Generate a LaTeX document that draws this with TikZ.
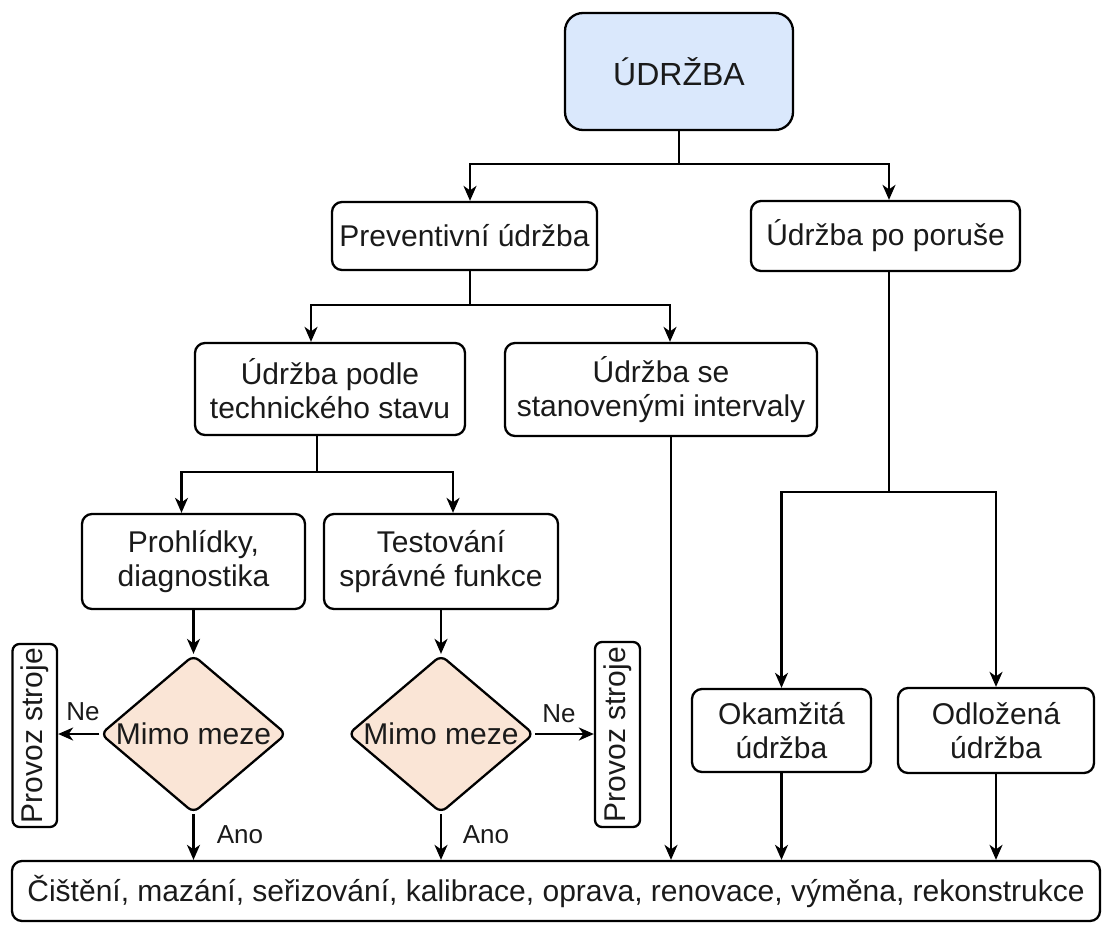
\documentclass[tikz,border=0pt]{standalone}
\usepackage{fontspec}
\setmainfont{Liberation Sans}
\usetikzlibrary{arrows.meta,shapes.geometric}
\definecolor{topfill}{HTML}{DAE8FC}
\definecolor{diafill}{HTML}{FAE5D6}
\definecolor{txt}{HTML}{1A1A1A}
\tikzset{
 box/.style={draw, line width=2.3pt, rounded corners=10pt, align=center, inner sep=0pt, text=txt, font=\fontsize{30}{34}\selectfont},
 dia/.style={diamond, draw, fill=diafill, line width=2.3pt, rounded corners=7pt, minimum width=186pt, minimum height=158pt, inner sep=0pt},
 vbox/.style={box, rotate=90, rounded corners=7pt},
 arr/.style={line width=2.2pt, -{Stealth[length=15pt,width=13pt,inset=4.5pt]}},
 ln/.style={line width=2.2pt},
 lbl/.style={font=\fontsize{26}{28}\selectfont, text=txt, inner sep=0pt},
 dtext/.style={font=\fontsize{30}{34}\selectfont, text=txt},
}
\begin{document}
\begin{tikzpicture}[x=1pt,y=-1pt]
\useasboundingbox (0,0) rectangle (1103,924);

% nodes
\node[box, fill=topfill, minimum width=228, minimum height=117, rounded corners=18pt, font=\fontsize{32}{36}\selectfont] (udrzba) at (679,71.5) {ÚDRŽBA};
\node[box, minimum width=265, minimum height=68] (prev) at (464.5,236) {Preventivní údržba};
\node[box, minimum width=269, minimum height=70] (porucha) at (885.5,236) {Údržba po poruše};
\node[box, minimum width=270, minimum height=92] (podle) at (330,389) {Údržba podle\\technického stavu};
\node[box, minimum width=312, minimum height=93] (se) at (661,389.5) {Údržba se\\stanovenými intervaly};
\node[box, minimum width=223, minimum height=95] (prohl) at (193.5,561.5) {Prohlídky,\\diagnostika};
\node[box, minimum width=234, minimum height=95] (test) at (441,561.5) {Testování\\správné funkce};
\node[dia, label={[dtext]center:Mimo meze}] (d1) at (193.5,734) {};
\node[dia, label={[dtext]center:Mimo meze}] (d2) at (441,734) {};
\node[vbox, minimum width=183, minimum height=44.5] (prov1) at (34.75,735.5) {Provoz stroje};
\node[vbox, minimum width=185, minimum height=45] (prov2) at (617.5,734.5) {Provoz stroje};
\node[box, minimum width=179, minimum height=83] (okam) at (781.5,730.5) {Okamžitá\\údržba};
\node[box, minimum width=196, minimum height=85] (odloz) at (996,730.5) {Odložená\\údržba};
\node[box, minimum width=1088, minimum height=60] (bottom) at (556,891) {Čištění, mazání, seřizování, kalibrace, oprava, renovace, výměna, rekonstrukce};

% junction coordinates
\coordinate (j1) at (679,164);
\coordinate (j2) at (470,305);
\coordinate (j3) at (317,472);
\coordinate (j4) at (889,492);
\coordinate (prevs) at ([xshift=5.5pt]prev.south);
\coordinate (podles) at ([xshift=-13pt]podle.south);
\coordinate (ses) at ([xshift=10pt]se.south);
\coordinate (pors) at ([xshift=3.5pt]porucha.south);

% connectors
\draw[ln] (udrzba.south) -- (j1);
\draw[arr] (j1) -| ([xshift=5.5pt]prev.north);
\draw[arr] (j1) -| ([xshift=3.5pt]porucha.north);

\draw[ln] (prevs) -- (j2);
\draw[arr] (j2) -| ([xshift=-19pt]podle.north);
\draw[arr] (j2) -| ([xshift=9pt]se.north);

\draw[ln] (podles) -- (j3);
\draw[arr] (j3) -| ([xshift=-12pt]prohl.north);
\draw[arr] (j3) -| ([xshift=12pt]test.north);

\draw[arr] (prohl.south) -- (d1.north);
\draw[arr] (test.south) -- (d2.north);

\draw[arr] (d1.west) -- (d1.west -| prov1.south);
\draw[arr] (d2.east) -- (d2.east -| prov2.north);
\node[lbl] (ne1) at (83,712) {Ne};
\node[lbl] (ne2) at (559,714) {Ne};

\draw[arr] (d1.south) -- (d1.south |- bottom.north);
\draw[arr] (d2.south) -- (d2.south |- bottom.north);
\node[lbl] (ano1) at (240,835) {Ano};
\node[lbl] (ano2) at (486,835) {Ano};

\draw[arr] (ses) -- (ses |- bottom.north);

\draw[ln] (pors) -- (j4);
\draw[arr] (j4) -| (okam.north);
\draw[arr] (j4) -| (odloz.north);
\draw[arr] (okam.south) -- (okam.south |- bottom.north);
\draw[arr] (odloz.south) -- (odloz.south |- bottom.north);
\end{tikzpicture}
\end{document}
